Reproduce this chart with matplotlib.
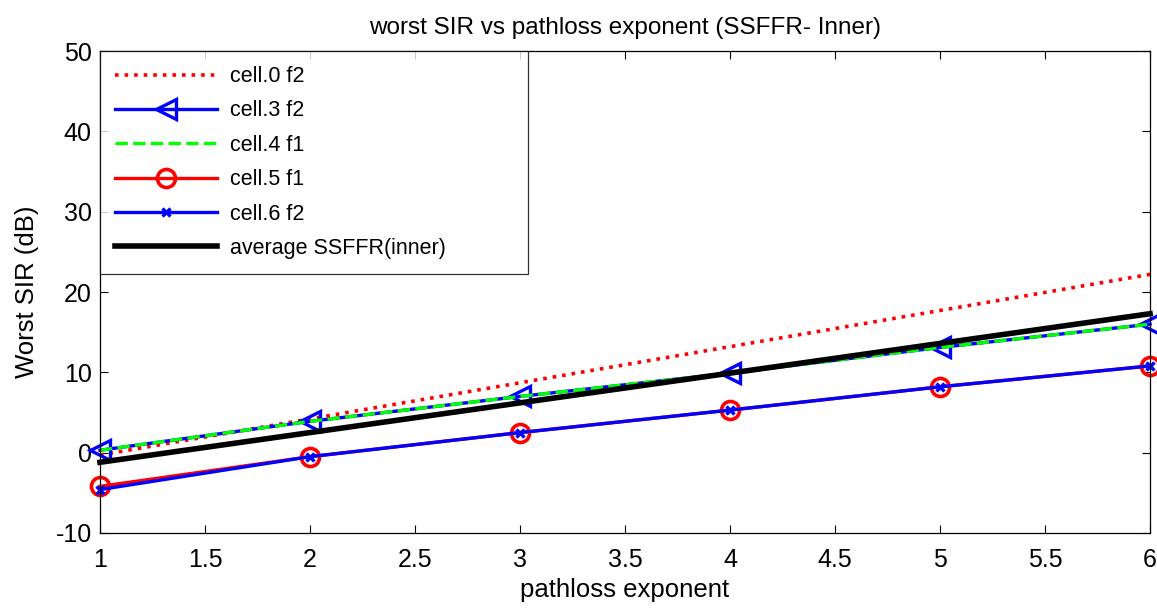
"""Worst SIR vs pathloss exponent (SSFFR inner), MATLAB-style line chart."""

import matplotlib
matplotlib.use('Agg')

import matplotlib.pyplot as plt

plt.rcParams['font.family'] = ['Liberation Sans', 'DejaVu Sans']

# data
pathloss = [1, 2, 3, 4, 5, 6]
cell0_f2 = [-0.3, 4.2, 8.7, 13.2, 17.7, 22.2]
cell3_f2 = [0.3, 3.9, 7.0, 9.9, 13.1, 16.0]
cell4_f1 = [0.3, 3.9, 7.0, 9.9, 13.1, 16.0]
cell5_f1 = [-4.2, -0.5, 2.5, 5.3, 8.2, 10.8]
cell6_f2 = [-4.6, -0.5, 2.5, 5.3, 8.2, 10.8]
avg_inner = [-1.2, 2.5, 6.2, 9.9, 13.6, 17.3]

x_ticks = [1, 1.5, 2, 2.5, 3, 3.5, 4, 4.5, 5, 5.5, 6]
x_tick_labels = ['1', '1.5', '2', '2.5', '3', '3.5', '4', '4.5', '5', '5.5', '6']
y_ticks = [-10, 0, 10, 20, 30, 40, 50]

fig = plt.figure(figsize=(11.57, 6.08), dpi=100)
ax = fig.add_axes([0.0864, 0.1234, 0.9076, 0.7926])

ax.plot(pathloss, cell0_f2, color='red', linestyle=':', linewidth=2.6,
        label='cell.0 f2', clip_on=False)
ax.plot(pathloss, cell3_f2, color='blue', linestyle='-', linewidth=2.4,
        marker='<', markersize=15, markerfacecolor='none', markeredgewidth=2.4,
        label='cell.3 f2', clip_on=False)
ax.plot(pathloss, cell4_f1, color='#00ff00', linestyle='--', linewidth=2.4,
        label='cell.4 f1', clip_on=False)
ax.plot(pathloss, cell5_f1, color='red', linestyle='-', linewidth=2.4,
        marker='o', markersize=13, markerfacecolor='none', markeredgewidth=2.6,
        label='cell.5 f1', clip_on=False)
ax.plot(pathloss, cell6_f2, color='blue', linestyle='-', linewidth=2.4,
        marker='x', markersize=6, markeredgewidth=2.4,
        label='cell.6 f2', clip_on=False)
ax.plot(pathloss, avg_inner, color='black', linestyle='-', linewidth=4.0,
        label='average SSFFR(inner)', clip_on=False)

ax.set_xlim(1, 6)
ax.set_ylim(-10, 50)
ax.set_xticks(x_ticks)
ax.set_xticklabels(x_tick_labels)
ax.set_yticks(y_ticks)
ax.set_yticklabels([str(v) for v in y_ticks])
ax.tick_params(direction='in', top=True, right=True, labelsize=18,
               length=6, width=0.8)
ax.tick_params(axis='x', pad=11)
ax.tick_params(axis='y', pad=6)
for sp in ax.spines.values():
    sp.set_linewidth(0.9)

ax.set_title('worst SIR vs pathloss exponent (SSFFR- Inner)', fontsize=17.5, pad=12)
ax.set_xlabel('pathloss exponent', fontsize=18.5, labelpad=4)
ax.set_ylabel('Worst SIR (dB)', fontsize=18.5, labelpad=12)

leg = ax.legend(loc='upper left', bbox_to_anchor=(0, 1, 0.4076, 0), mode='expand',
                fontsize=15.5, handlelength=4.75, borderaxespad=0, frameon=True,
                fancybox=False, edgecolor='black', labelspacing=0.62,
                borderpad=0.7, handletextpad=0.6)
leg.get_frame().set_linewidth(0.9)

fig.savefig('out.png', dpi=100)
